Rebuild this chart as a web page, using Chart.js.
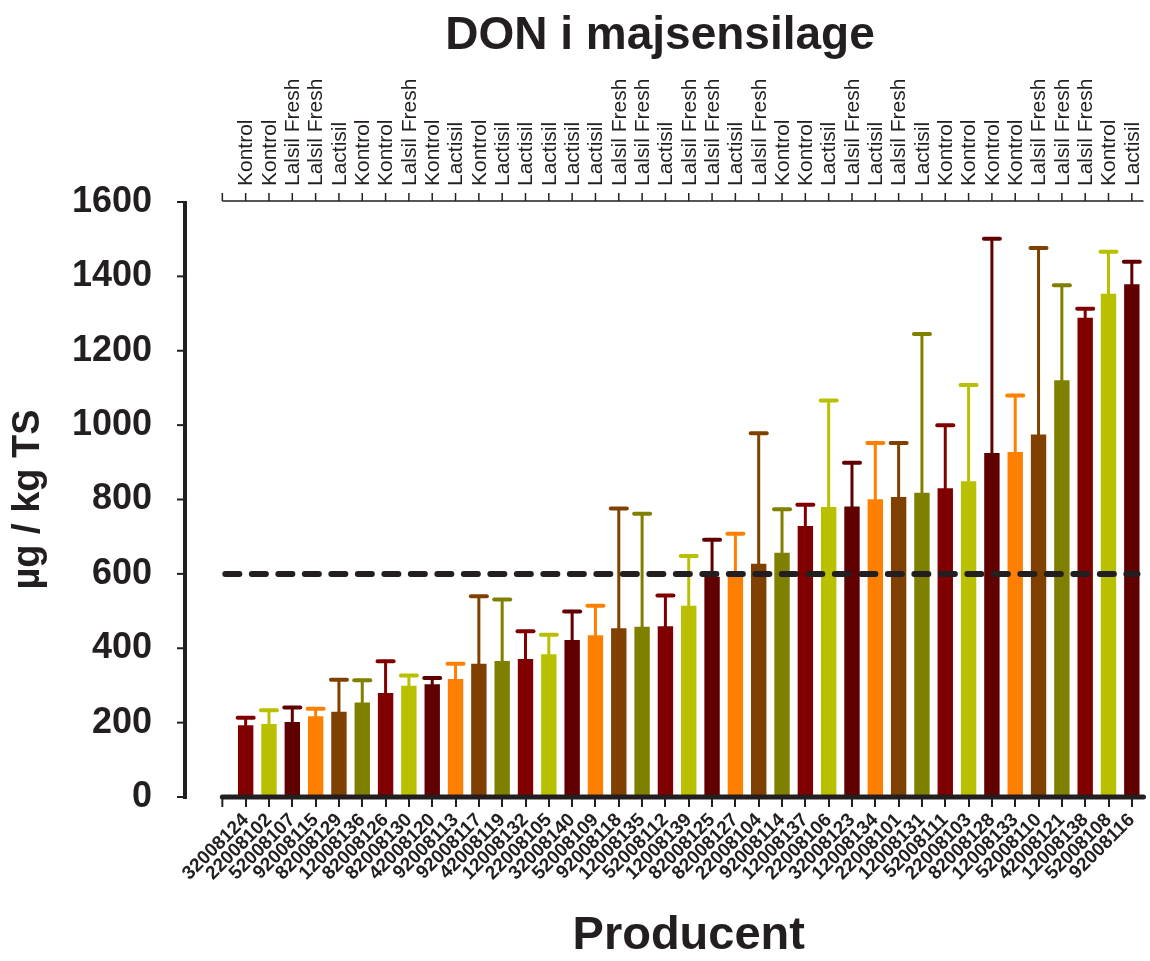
<!DOCTYPE html>
<html>
<head>
<meta charset="utf-8">
<script src="https://cdn.jsdelivr.net/npm/chart.js@4.4.0/dist/chart.umd.min.js"></script>
<style>
  body { margin: 0; background: #fff; }
  #wrap { width: 1150px; height: 961px; }
</style>
</head>
<body>
<div id="wrap"><canvas id="don-chart"></canvas></div>
<script>
const producers = ['32008124', '22008102', '52008107', '92008115', '82008129', '12008136', '82008126', '82008130',
  '42008120', '92008113', '92008117', '42008119', '12008132', '22008105', '32008140', '52008109', '92008118',
  '12008135', '52008112', '12008139', '82008125', '82008127', '22008104', '92008114', '12008137', '22008106',
  '32008123', '12008134', '22008101', '12008131', '52008111', '22008103', '82008128', '12008133', '52008110',
  '42008121', '12008138', '52008108', '92008116'];

const treatments = ['Kontrol', 'Kontrol', 'Lalsil Fresh', 'Lalsil Fresh', 'Lactisil', 'Kontrol', 'Kontrol',
  'Lalsil Fresh', 'Kontrol', 'Lactisil', 'Kontrol', 'Lactisil', 'Lactisil', 'Lactisil', 'Lactisil', 'Lactisil',
  'Lalsil Fresh', 'Lalsil Fresh', 'Lactisil', 'Lalsil Fresh', 'Lalsil Fresh', 'Lactisil', 'Lalsil Fresh',
  'Kontrol', 'Kontrol', 'Lactisil', 'Lalsil Fresh', 'Lactisil', 'Lalsil Fresh', 'Lactisil', 'Kontrol',
  'Kontrol', 'Kontrol', 'Kontrol', 'Lalsil Fresh', 'Lalsil Fresh', 'Lalsil Fresh', 'Kontrol', 'Lactisil'];

// mean DON, ug/kg TS
const donMeans = [193, 196, 202, 217, 229, 254, 280, 299, 303, 317, 358, 366, 371, 384, 422, 435, 454, 458,
  459, 514, 592, 600, 627, 657, 729, 780, 781, 801, 807, 818, 830, 849, 925, 928, 975, 1121, 1289, 1353, 1379];

// upper error bar (sd)
const donSd = [20, 37, 39, 20, 86, 60, 85, 28, 17, 41, 182, 165, 75, 52, 77, 79, 322, 304, 83, 134, 100, 108,
  351, 117, 57, 286, 118, 151, 145, 427, 170, 259, 576, 152, 501, 255, 24, 113, 60];

const limitValue = 600;
const yTicks = [0, 200, 400, 600, 800, 1000, 1200, 1400, 1600];

const palette = ['#800000', '#b8c000', '#600000', '#ff8000', '#804000', '#808000'];
const barColors = producers.map((p, i) => palette[i % palette.length]);

const FONT = '"Liberation Sans", Arial, sans-serif';
const INK = '#231f20';

const axesAndErrors = {
  id: 'axesAndErrors',
  afterDatasetsDraw(chart) {
    const ctx = chart.ctx;
    const area = chart.chartArea;
    const y = chart.scales.y;
    const meta = chart.getDatasetMeta(0);
    const catW = (area.right - area.left) / producers.length;
    const axisStart = area.left - catW / 2;
    ctx.save();

    // error bars (upper only)
    meta.data.forEach((bar, i) => {
      const top = y.getPixelForValue(donMeans[i] + donSd[i]);
      ctx.strokeStyle = barColors[i];
      ctx.lineCap = 'round';
      ctx.lineWidth = 3;
      ctx.beginPath();
      ctx.moveTo(bar.x, bar.y);
      ctx.lineTo(bar.x, top);
      ctx.stroke();
      ctx.lineWidth = 4;
      ctx.beginPath();
      ctx.moveTo(bar.x - 8, top);
      ctx.lineTo(bar.x + 8, top);
      ctx.stroke();
    });

    // 600 limit line
    const ly = y.getPixelForValue(limitValue);
    ctx.strokeStyle = INK;
    ctx.lineWidth = 6;
    ctx.lineCap = 'round';
    ctx.setLineDash([14, 12.5]);
    ctx.beginPath();
    ctx.moveTo(axisStart + 3, ly);
    ctx.lineTo(area.right - 6, ly);
    ctx.stroke();
    ctx.setLineDash([]);

    // y axis spine, detached from the bars
    const yx = area.left - 49;
    ctx.lineCap = 'butt';
    ctx.lineWidth = 4;
    ctx.beginPath();
    ctx.moveTo(yx, y.getPixelForValue(1600) - 1);
    ctx.lineTo(yx, y.getPixelForValue(0) + 2);
    ctx.stroke();
    ctx.lineWidth = 2;
    yTicks.forEach(v => {
      const py = y.getPixelForValue(v);
      ctx.beginPath();
      ctx.moveTo(yx - 8, py);
      ctx.lineTo(yx, py);
      ctx.stroke();
    });

    // bottom x axis
    const by = y.getPixelForValue(0);
    ctx.lineWidth = 5;
    ctx.lineCap = 'round';
    ctx.beginPath();
    ctx.moveTo(axisStart, by);
    ctx.lineTo(area.right, by);
    ctx.stroke();
    ctx.lineCap = 'butt';
    ctx.lineWidth = 2;
    ctx.beginPath();
    ctx.moveTo(axisStart, by);
    ctx.lineTo(axisStart, by + 10);
    ctx.stroke();

    // top axis with treatment labels
    const ty = area.top - 1;
    ctx.lineWidth = 1.5;
    ctx.beginPath();
    ctx.moveTo(axisStart, ty);
    ctx.lineTo(area.right, ty);
    ctx.moveTo(axisStart, ty);
    ctx.lineTo(axisStart, ty - 8);
    meta.data.forEach(bar => {
      ctx.moveTo(bar.x, ty);
      ctx.lineTo(bar.x, ty - 8);
    });
    ctx.stroke();

    ctx.fillStyle = INK;
    ctx.font = '21px ' + FONT;
    ctx.textAlign = 'left';
    ctx.textBaseline = 'middle';
    meta.data.forEach((bar, i) => {
      ctx.save();
      ctx.translate(bar.x + 1, ty - 15);
      ctx.rotate(-Math.PI / 2);
      ctx.fillText(treatments[i], 0, 0);
      ctx.restore();
    });

    // chart title
    ctx.font = 'bold 46px ' + FONT;
    ctx.textAlign = 'center';
    ctx.fillText('DON i majsensilage', chart.width / 2 + 85, 36);
    ctx.restore();
  }
};

const ctx = document.getElementById('don-chart');

new Chart(ctx, {
  type: 'bar',
  data: {
    labels: producers,
    datasets: [{
      data: donMeans,
      backgroundColor: barColors,
      borderWidth: 0,
      categoryPercentage: 1,
      barPercentage: 0.66
    }]
  },
  options: {
    responsive: true,
    maintainAspectRatio: false,
    animation: false,
    layout: { padding: { top: 202, right: 4, left: 0, bottom: 0 } },
    plugins: {
      legend: { display: false },
      tooltip: { enabled: false },
      title: { display: false }
    },
    scales: {
      x: {
        position: 'bottom',
        offset: true,
        border: { display: false },
        grid: { drawOnChartArea: false, offset: false, tickLength: 10, color: INK, lineWidth: 2 },
        ticks: {
          autoSkip: false, minRotation: 45, maxRotation: 45, padding: 2, color: INK,
          font: { family: FONT, size: 19, weight: 'bold' }
        },
        title: {
          display: true, text: 'Producent', color: INK,
          font: { family: FONT, size: 47, weight: 'bold', lineHeight: 1 },
          padding: { top: 0, bottom: 1 }
        },
        afterFit(scale) { scale.height = 164; }
      },
      y: {
        min: 0,
        max: 1600,
        border: { display: false },
        grid: { display: false },
        ticks: {
          stepSize: 200, padding: 74, color: INK,
          font: { family: FONT, size: 36, weight: 'bold' },
          callback: v => String(v)
        },
        title: {
          display: true, text: 'µg / kg TS', color: INK,
          font: { family: FONT, size: 38, weight: 'bold', lineHeight: 1 },
          padding: { top: 10, bottom: 0 }
        },
        afterFit(scale) { scale.width = 234; }
      }
    }
  },
  plugins: [axesAndErrors]
});
</script>
</body>
</html>
